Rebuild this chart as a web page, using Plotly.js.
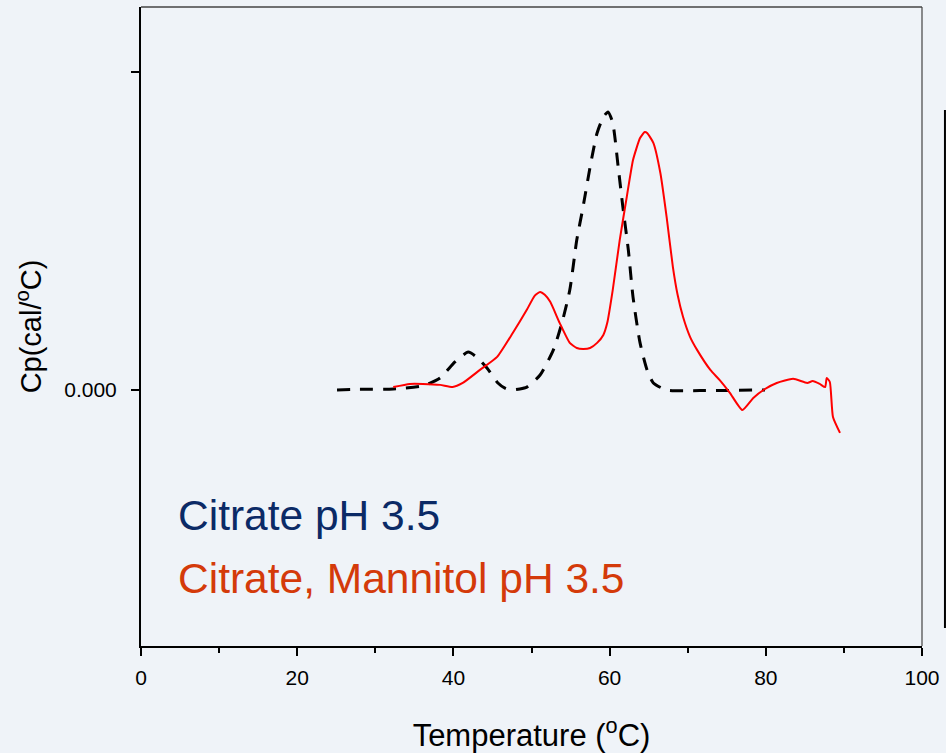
<!DOCTYPE html>
<html>
<head>
<meta charset="utf-8">
<script src="https://cdn.plot.ly/plotly-3.0.1.min.js"></script>
<style>
html,body{margin:0;padding:0;background:#eff3f8;}
#chart{width:946px;height:753px;}
</style>
</head>
<body>
<div id="chart"></div>
<script>
// Citrate pH 3.5 (dashed black)
const citrateT = [25.1, 28.0, 32.3, 36.1, 38.3, 40.2, 41.9, 43.1, 44.3, 45.7, 46.6, 47.5, 48.5, 49.4, 51.1, 52.8, 53.9, 54.9, 55.8, 56.6, 57.5, 58.4, 59.2, 59.8, 60.4, 61.1, 61.7, 62.4, 63.0, 63.9, 64.8, 65.6, 67.3, 71.6, 79.9];
const citrateCp = [0, 0.002, 0.003, 0.013, 0.038, 0.088, 0.119, 0.101, 0.069, 0.022, 0.006, 0, 0.003, 0.009, 0.047, 0.126, 0.211, 0.314, 0.472, 0.575, 0.701, 0.808, 0.858, 0.874, 0.840, 0.701, 0.575, 0.440, 0.292, 0.148, 0.063, 0.022, 0, -0.002, 0];

// Citrate, Mannitol pH 3.5 (solid red)
const mannitolT = [32.3, 34.4, 36.1, 38.3, 39.9, 41.2, 43.4, 45.6, 47.6, 49.4, 50.4, 51.1, 51.7, 52.4, 53.6, 54.9, 55.8, 56.6, 57.5, 58.4, 59.2, 59.7, 60.4, 61.3, 62.2, 63.0, 63.9, 64.5, 64.8, 65.6, 66.5, 67.3, 68.1, 68.7, 69.4, 70.3, 71.2, 72.9, 74.1, 75.4, 77.0, 78.4, 79.9, 81.4, 83.5, 85.3, 86.0, 86.9, 87.6, 87.8, 88.2, 88.6, 89.5];
const mannitolCp = [0.009, 0.019, 0.019, 0.016, 0.009, 0.022, 0.063, 0.104, 0.179, 0.252, 0.296, 0.308, 0.299, 0.277, 0.211, 0.148, 0.132, 0.129, 0.132, 0.148, 0.173, 0.211, 0.314, 0.472, 0.607, 0.723, 0.792, 0.811, 0.808, 0.777, 0.682, 0.544, 0.387, 0.300, 0.230, 0.167, 0.126, 0.063, 0.031, -0.009, -0.063, -0.025, 0.003, 0.022, 0.035, 0.022, 0.028, 0.019, 0.009, 0.038, 0.025, -0.085, -0.135];

const yTickVals = [0, 1];
const yTickText = ["0.000", ""];
const xTickVals = [0, 20, 40, 60, 80, 100];
const xTickText = ["0", "20", "40", "60", "80", "100"];
const seriesNames = ["Citrate pH 3.5", "Citrate, Mannitol pH 3.5"];

const traces = [
  {x: citrateT, y: citrateCp, type: 'scatter', mode: 'lines', name: seriesNames[0],
   line: {color: '#000000', width: 3, dash: '13px,10px', shape: 'spline', smoothing: 0.6}},
  {x: mannitolT, y: mannitolCp, type: 'scatter', mode: 'lines', name: seriesNames[1],
   line: {color: '#ff0000', width: 2, shape: 'spline', smoothing: 0.5}}
];

const font = 'Liberation Sans, Arial, sans-serif';
const layout = {
  width: 946, height: 753,
  paper_bgcolor: '#eff3f8', plot_bgcolor: '#eff3f8',
  margin: {l: 141, r: 24, t: 7, b: 107},
  showlegend: false,
  font: {family: font, color: '#000'},
  xaxis: {
    range: [0, 100], tickvals: xTickVals, ticktext: xTickText,
    showgrid: false, zeroline: false, showline: true, linecolor: '#000', linewidth: 2,
    ticks: 'outside', ticklen: 8, tickwidth: 2, tickcolor: '#000',
    minor: {dtick: 10, tick0: 0, ticks: 'outside', ticklen: 5, tickwidth: 2, tickcolor: '#000', showgrid: false},
    tickfont: {size: 21, family: font, color: '#000'},
    ticklabelstandoff: 4,
    title: {text: 'Temperature (<sup>o</sup>C)', font: {size: 31, family: font, color: '#000'}, standoff: 36}
  },
  yaxis: {
    range: [-0.805, 1.204], tickvals: yTickVals, ticktext: yTickText,
    showgrid: false, zeroline: false, showline: true, linecolor: '#000', linewidth: 2,
    ticks: 'outside', ticklen: 8, tickwidth: 2, tickcolor: '#000',
    tickfont: {size: 21, family: font, color: '#000'},
    ticklabelstandoff: 10,
    title: {text: 'Cp(cal/<sup>o</sup>C)', font: {size: 29, family: font, color: '#000'}, standoff: 14}
  },
  shapes: [
    {type: 'line', xref: 'paper', yref: 'paper', x0: 0, x1: 1, y0: 1, y1: 1, line: {color: '#444', width: 1.5}},
    {type: 'line', xref: 'paper', yref: 'paper', x0: 1, x1: 1, y0: 0, y1: 1, line: {color: '#444', width: 1.2}},
    {type: 'line', xref: 'paper', yref: 'paper', x0: 1.0294, x1: 1.0294, y0: 0.028, y1: 0.839, line: {color: '#000', width: 2}}
  ],
  annotations: [
    {xref: 'paper', yref: 'paper', x: 0.045, y: 0.205, xanchor: 'left', yanchor: 'middle', showarrow: false,
     text: seriesNames[0], font: {size: 42.5, family: font, color: '#0b2a66'}},
    {xref: 'paper', yref: 'paper', x: 0.045, y: 0.105, xanchor: 'left', yanchor: 'middle', showarrow: false,
     text: seriesNames[1], font: {size: 42.5, family: font, color: '#d43a0a'}}
  ]
};

Plotly.newPlot('chart', traces, layout, {displayModeBar: false, staticPlot: true});
</script>
</body>
</html>
